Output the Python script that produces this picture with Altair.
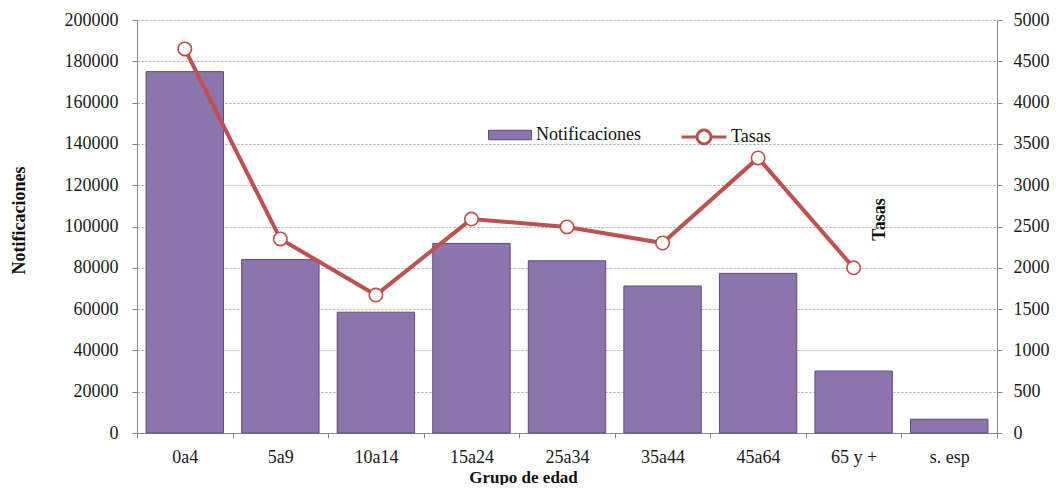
import altair as alt
import pandas as pd

grupos = ["0a4", "5a9", "10a14", "15a24", "25a34", "35a44", "45a64", "65 y +", "s. esp"]
notificaciones = [175000, 84000, 58500, 91800, 83400, 71200, 77300, 30000, 6700]
tasas = [4650, 2350, 1670, 2590, 2495, 2300, 3330, 2000, None]

df = pd.DataFrame({
    "grupo": grupos,
    "notif": notificaciones,
    "tasa": tasas,
    "s_n": "Notificaciones",
    "s_t": "Tasas",
})

FONT = "Liberation Serif"
W, H = 860, 413
BAR = "#8C75AC"
BAR_EDGE = "#5E4B7C"
RED = "#C0504D"
AX = "#868686"
LBL = "#1a1a1a"
TTL = "#111111"

common = dict(
    labelFont=FONT,
    titleFont=FONT,
    labelColor=LBL,
    titleColor=TTL,
    domainColor=AX,
    tickColor=AX,
    labelFontSize=18,
    titleFontWeight="bold",
)

x_enc = alt.X(
    "grupo:N",
    sort=grupos,
    scale=alt.Scale(paddingInner=0, paddingOuter=0),
    axis=alt.Axis(
        title="Grupo de edad",
        labelAngle=0,
        tickBand="extent",
        tickSize=5,
        labelPadding=10,
        titleFontSize=17,
        titleX=386,
        titleY=44,
        titleAlign="center",
        titleBaseline="middle",
        grid=False,
        **common,
    ),
)

bars = alt.Chart(df).mark_bar(
    width=alt.RelativeBandSize(0.81), stroke=BAR_EDGE, strokeWidth=1
).encode(
    x=x_enc,
    y=alt.Y(
        "notif:Q",
        scale=alt.Scale(domain=[0, 200000]),
        axis=alt.Axis(
            title="Notificaciones",
            values=list(range(0, 200001, 20000)),
            format="d",
            grid=True,
            gridDash=[2, 2],
            gridColor="#A6A6A6",
            tickSize=5,
            labelPadding=14,
            titleFontSize=18,
            titleAngle=270,
            titleX=-118,
            titleY=200,
            titleAlign="center",
            titleBaseline="middle",
            **common,
        ),
    ),
    color=alt.Color(
        "s_n:N",
        scale=alt.Scale(range=[BAR]),
        legend=alt.Legend(
            orient="none",
            legendX=351,
            legendY=93,
            title=None,
            padding=0,
            symbolType="M-1,-0.22H1V0.22H-1Z",
            symbolSize=1849,
            symbolStrokeColor=BAR_EDGE,
            symbolStrokeWidth=1,
            labelFont=FONT,
            labelFontSize=18,
            labelColor=TTL,
            labelOffset=4,
        ),
    ),
)

y_rate = alt.Y(
    "tasa:Q",
    scale=alt.Scale(domain=[0, 5000]),
    axis=alt.Axis(
        orient="right",
        title="Tasas",
        values=list(range(0, 5001, 500)),
        format="d",
        grid=False,
        tickSize=5,
        labelPadding=11,
        titleFontSize=18,
        titleAngle=270,
        titleX=-118,
        titleY=199,
        titleAlign="center",
        titleBaseline="middle",
        **common,
    ),
)

line = alt.Chart(df).mark_line(strokeWidth=4).encode(
    x=x_enc,
    y=y_rate,
    stroke=alt.Stroke(
        "s_t:N",
        scale=alt.Scale(range=[RED]),
        legend=alt.Legend(
            orient="none",
            legendX=543,
            legendY=93,
            title=None,
            padding=0,
            symbolType="M-1,0H-0.31M0.31,0H1M0.31,0A0.31,0.31 0 1 1 -0.31,0A0.31,0.31 0 1 1 0.31,0Z",
            symbolSize=2025,
            symbolFillColor="white",
            symbolStrokeWidth=3,
            labelFont=FONT,
            labelFontSize=18,
            labelColor=TTL,
            labelOffset=3,
        ),
    ),
)

points = alt.Chart(df).mark_point(
    shape="circle", filled=True, fill="white", stroke=RED, strokeWidth=1.6, size=180, opacity=1
).encode(x=x_enc, y=y_rate)

chart = alt.layer(bars, alt.layer(line, points)).resolve_scale(
    y="independent"
).properties(
    width=W,
    height=H,
    padding={"left": 129, "top": 12, "right": 55, "bottom": 52},
    autosize=alt.AutoSizeParams(type="none"),
).configure_view(stroke=None)

chart.save("out.html", embed_options={"renderer": "svg", "actions": False})
